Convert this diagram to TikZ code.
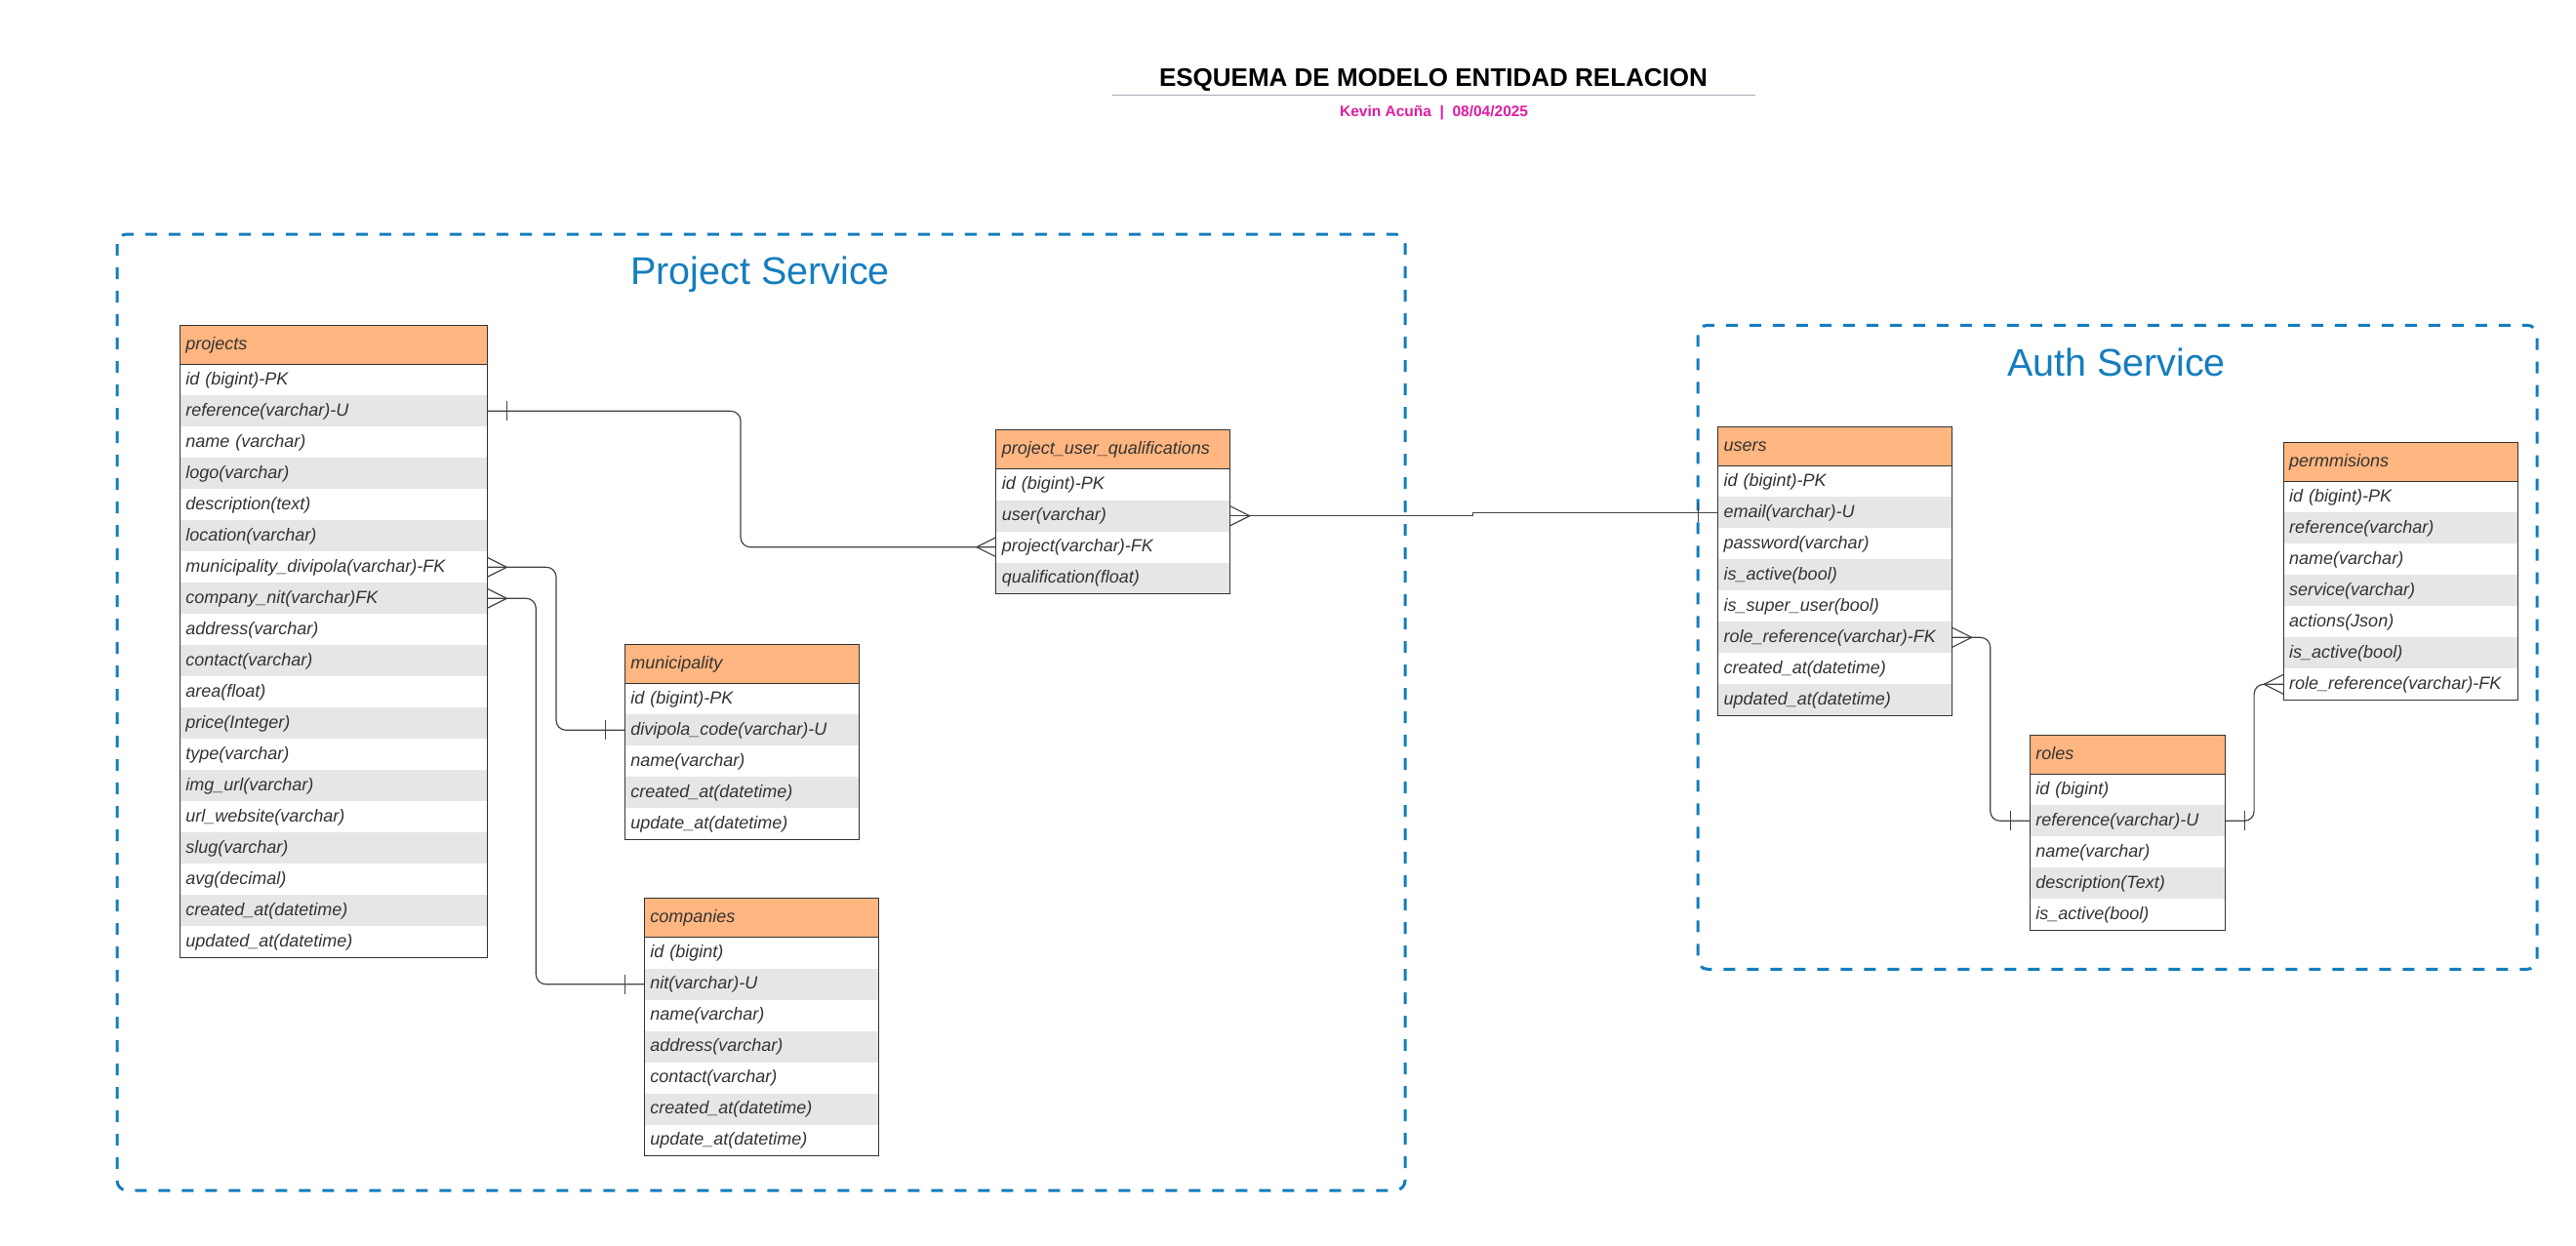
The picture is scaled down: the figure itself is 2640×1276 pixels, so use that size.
\documentclass[tikz,border=0pt]{standalone}
\usepackage{fontspec}
\setmainfont{Liberation Sans}
\usetikzlibrary{positioning}

\definecolor{linedark}{HTML}{333333}
\definecolor{relgray}{HTML}{444444}
\definecolor{headorange}{HTML}{FFB680}
\definecolor{rowgray}{HTML}{E6E6E6}
\definecolor{svcblue}{RGB}{20,125,190}
\definecolor{authorpink}{RGB}{224,27,160}
\definecolor{rulegray}{HTML}{A5A9B4}

% end marks of the relations
\newcommand{\onebar}[2]{\draw[rel] ([xshift=#2*10pt]#1) ++(0,5pt) -- ++(0,-10pt);}
\newcommand{\crowfoot}[2]{\draw[rel] ([yshift=5pt]#1) -- ([xshift=#2*10pt]#1) -- ([yshift=-5pt]#1);}

\begin{document}
\begin{tikzpicture}[x=0.5pt, y=-0.5pt,
  head/.style={anchor=north west, draw=linedark, fill=headorange, minimum height=20pt, inner xsep=3pt, inner ysep=0pt, outer sep=0pt, align=left, text=linedark, text height=6.6pt, text depth=1.8pt, font=\itshape\fontsize{9}{10}\selectfont},
  field/.style={minimum height=16pt, inner xsep=3pt, inner ysep=0pt, outer sep=0pt, align=left, text=linedark, text height=6.6pt, text depth=1.8pt, font=\itshape\fontsize{9}{10}\selectfont},
  border/.style={draw=linedark, line width=0.6pt},
  rel/.style={draw=relgray, line width=0.6pt},
  svcbox/.style={draw=svcblue, line width=1.5pt, rounded corners=5pt, dash pattern=on 6pt off 6pt},
  svctitle/.style={anchor=base, text=svcblue, font=\fontsize{19.75}{22}\selectfont}]
\useasboundingbox (0,0) rectangle (2640,1276);

% title
\node[anchor=base, font=\bfseries\fontsize{13}{15}\selectfont] (title) at (1469,88.3) {ESQUEMA DE MODELO ENTIDAD RELACION};
\draw[rulegray, line width=0.65pt] (1140,97.7) -- (1799,97.7);
\node[anchor=base, text=authorpink, font=\bfseries\fontsize{7.75}{9}\selectfont] (author) at (1469.6,119.3) {Kevin Acuña~~|~~08/04/2025};

% service frames
\draw[svcbox] (120,240) rectangle (1440,1220);
\node[svctitle] (projsvc) at (779,291.7) {Project Service};
\draw[svcbox] (1740,333.3) rectangle (2600,993.3);
\node[svctitle] (authsvc) at (2169,385) {Auth Service};

% projects
\node[head, text width=151.5pt] (proj-0) at (184.3,333.3) {projects};
\foreach \f [count=\i] in {id (bigint)-PK, reference(varchar)-U, name (varchar), logo(varchar), description(text), location(varchar), municipality\_divipola(varchar)-FK, company\_nit(varchar)FK, address(varchar), contact(varchar), area(float), price(Integer), type(varchar), img\_url(varchar), url\_website(varchar), slug(varchar), avg(decimal), created\_at(datetime), updated\_at(datetime)}{
    \pgfmathtruncatemacro\j{\i-1}
    \ifodd\i \def\rowfill{white}\else \def\rowfill{rowgray}\fi
    \node[field, fill=\rowfill, text width=151.5pt, below=0pt of proj-\j] (proj-\i) {\f};}
\draw[border] (proj-0.north west) rectangle (proj-19.south east) (proj-0.south west) -- (proj-0.south east);

% municipality
\node[head, text width=114pt] (muni-0) at (640.3,660.3) {municipality};
\foreach \f [count=\i] in {id (bigint)-PK, divipola\_code(varchar)-U, name(varchar), created\_at(datetime), update\_at(datetime)}{
    \pgfmathtruncatemacro\j{\i-1}
    \ifodd\i \def\rowfill{white}\else \def\rowfill{rowgray}\fi
    \node[field, fill=\rowfill, text width=114pt, below=0pt of muni-\j] (muni-\i) {\f};}
\draw[border] (muni-0.north west) rectangle (muni-5.south east) (muni-0.south west) -- (muni-0.south east);

% companies
\node[head, text width=114pt] (comp-0) at (660.3,920.7) {companies};
\foreach \f [count=\i] in {id (bigint), nit(varchar)-U, name(varchar), address(varchar), contact(varchar), created\_at(datetime), update\_at(datetime)}{
    \pgfmathtruncatemacro\j{\i-1}
    \ifodd\i \def\rowfill{white}\else \def\rowfill{rowgray}\fi
    \node[field, fill=\rowfill, text width=114pt, below=0pt of comp-\j] (comp-\i) {\f};}
\draw[border] (comp-0.north west) rectangle (comp-7.south east) (comp-0.south west) -- (comp-0.south east);

% project_user_qualifications
\node[head, text width=114pt] (puq-0) at (1020.8,440.7) {project\_user\_qualifications};
\foreach \f [count=\i] in {id (bigint)-PK, user(varchar), project(varchar)-FK, qualification(float)}{
    \pgfmathtruncatemacro\j{\i-1}
    \ifodd\i \def\rowfill{white}\else \def\rowfill{rowgray}\fi
    \node[field, fill=\rowfill, text width=114pt, below=0pt of puq-\j] (puq-\i) {\f};}
\draw[border] (puq-0.north west) rectangle (puq-4.south east) (puq-0.south west) -- (puq-0.south east);

% users
\node[head, text width=114pt] (usr-0) at (1760.7,437.3) {users};
\foreach \f [count=\i] in {id (bigint)-PK, email(varchar)-U, password(varchar), is\_active(bool), is\_super\_user(bool), role\_reference(varchar)-FK, created\_at(datetime), updated\_at(datetime)}{
    \pgfmathtruncatemacro\j{\i-1}
    \ifodd\i \def\rowfill{white}\else \def\rowfill{rowgray}\fi
    \node[field, fill=\rowfill, text width=114pt, below=0pt of usr-\j] (usr-\i) {\f};}
\draw[border] (usr-0.north west) rectangle (usr-8.south east) (usr-0.south west) -- (usr-0.south east);

% roles
\node[head, text width=94pt] (role-0) at (2080.4,753.3) {roles};
\foreach \f [count=\i] in {id (bigint), reference(varchar)-U, name(varchar), description(Text), is\_active(bool)}{
    \pgfmathtruncatemacro\j{\i-1}
    \ifodd\i \def\rowfill{white}\else \def\rowfill{rowgray}\fi
    \node[field, fill=\rowfill, text width=94pt, below=0pt of role-\j] (role-\i) {\f};}
\draw[border] (role-0.north west) rectangle (role-5.south east) (role-0.south west) -- (role-0.south east);

% permmisions
\node[head, text width=114pt] (perm-0) at (2340.2,453.3) {permmisions};
\foreach \f [count=\i] in {id (bigint)-PK, reference(varchar), name(varchar), service(varchar), actions(Json), is\_active(bool), role\_reference(varchar)-FK}{
    \pgfmathtruncatemacro\j{\i-1}
    \ifodd\i \def\rowfill{white}\else \def\rowfill{rowgray}\fi
    \node[field, fill=\rowfill, text width=114pt, below=0pt of perm-\j] (perm-\i) {\f};}
\draw[border] (perm-0.north west) rectangle (perm-7.south east) (perm-0.south west) -- (perm-0.south east);

% relations
\draw[rel, rounded corners=5pt] (proj-2.east) -- ++(259.7,0) |- (puq-3.west);
\onebar{proj-2.east}{1}
\crowfoot{puq-3.west}{-1}
\draw[rel, rounded corners=5pt] (proj-7.east) -- ++(70.7,0) |- (muni-2.west);
\crowfoot{proj-7.east}{1}
\onebar{muni-2.west}{-1}
\draw[rel, rounded corners=5pt] (proj-8.east) -- ++(50,0) |- (comp-2.west);
\crowfoot{proj-8.east}{1}
\onebar{comp-2.west}{-1}
\draw[rel] (puq-2.east) -- ++(249,0) |- (usr-2.west);
\crowfoot{puq-2.east}{1}
\onebar{usr-2.west}{-1}
\draw[rel, rounded corners=5pt] (usr-6.east) -- ++(39,0) |- (role-2.west);
\crowfoot{usr-6.east}{1}
\onebar{role-2.west}{-1}
\draw[rel, rounded corners=5pt] (role-2.east) -- ++(29.7,0) |- (perm-7.west);
\onebar{role-2.east}{1}
\crowfoot{perm-7.west}{-1}
\end{tikzpicture}
\end{document}
